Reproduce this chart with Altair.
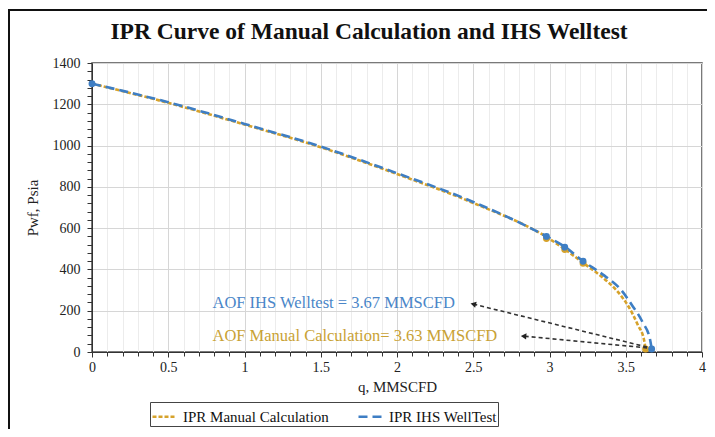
import altair as alt
import pandas as pd

# ---- data ----
series_names = ["IPR Manual Calculation", "IPR IHS WellTest"]
series_colors = ["#D6A22B", "#3E7EC4"]

manual_q = [0.0, 0.5, 1.0, 1.5, 2.0, 2.5, 3.0, 3.10, 3.22, 3.35, 3.45, 3.52, 3.58, 3.62, 3.63]
manual_p = [1300, 1207, 1102, 992, 862, 722, 548, 498, 432, 360, 290, 218, 130, 58, 14.7]

ihs_q = [0.0, 0.5, 1.0, 1.5, 2.0, 2.5, 2.98, 3.10, 3.22, 3.36, 3.47, 3.54, 3.61, 3.66, 3.67]
ihs_p = [1300, 1210, 1105, 995, 866, 727, 560, 510, 440, 370, 300, 228, 145, 58, 14.7]

manual_pts_q = [2.98, 3.10, 3.22, 3.63]
manual_pts_p = [550, 496, 430, 14.7]
ihs_pts_q = [0.0, 2.98, 3.10, 3.22, 3.67]
ihs_pts_p = [1300, 560, 508, 440, 14.7]

ann_text = ["AOF IHS Welltest = 3.67 MMSCFD", "AOF Manual Calculation= 3.63 MMSCFD"]
ann_q = [0.79, 0.79]
ann_p = [237, 78]
ann_colors = ["#4A86C8", "#C9A235"]

arrow_from_q = [3.64, 3.64]
arrow_from_p = [24, 20]
arrow_to_q = [2.50, 2.83]
arrow_to_p = [232, 77]
arrow_angle = [14, 4]

# axis ticks: majors get labels, minors only a short tick
x_ticks = [round(i * 0.1, 1) for i in range(41)]
y_ticks = [i * 40 for i in range(36)]

FONT = "Liberation Serif"

# ---- tables ----
curves = pd.DataFrame(
    {"q": manual_q, "p": manual_p, "series": series_names[0], "idx": range(len(manual_q))}
)
curves = pd.concat([curves, pd.DataFrame(
    {"q": ihs_q, "p": ihs_p, "series": series_names[1], "idx": range(len(ihs_q))}
)], ignore_index=True)

pts = pd.concat([
    pd.DataFrame({"q": manual_pts_q, "p": manual_pts_p, "series": series_names[0]}),
    pd.DataFrame({"q": ihs_pts_q, "p": ihs_pts_p, "series": series_names[1]}),
], ignore_index=True)

ann = pd.DataFrame({"q": ann_q, "p": ann_p, "text": ann_text, "c": ann_colors})
arrows = pd.DataFrame({"q": arrow_from_q, "p": arrow_from_p, "q2": arrow_to_q,
                       "p2": arrow_to_p, "ang": arrow_angle})

xs = alt.Scale(domain=[0, 4], nice=False, zero=False)
ys = alt.Scale(domain=[0, 1400], nice=False)
color_scale = alt.Scale(domain=series_names, range=series_colors)

x_major_test = "abs(datum.value * 2 - round(datum.value * 2)) < 0.001"
y_major_test = "datum.value % 200 == 0"

x_axis = alt.Axis(values=x_ticks, tickCount=100, title="q, MMSCFD", labelFont=FONT, labelFontSize=14,
                  labelExpr="abs(datum.value * 2 - round(datum.value * 2)) < 0.001 ? format(datum.value, '~g') : ''",
                  labelColor="#222", titleFont=FONT, titleFontSize=15, titleFontWeight="normal",
                  titleColor="#222", titlePadding=5, domainColor="#333", tickColor="#333",
                  tickSize={"condition": {"test": x_major_test, "value": 5}, "value": 4},
                  gridColor={"condition": {"test": x_major_test, "value": "#d6d6d6"}, "value": "#ececec"},
                  labelPadding=3, grid=True, labelFlush=False, labelOverlap=False)
y_axis = alt.Axis(values=y_ticks, tickCount=100, title="Pwf, Psia", labelFont=FONT, labelFontSize=14,
                  labelExpr="datum.value % 200 == 0 ? format(datum.value, 'd') : ''",
                  labelColor="#222", titleFont=FONT, titleFontSize=15, titleFontWeight="normal",
                  titleColor="#222", titlePadding=12, domainColor="#333", tickColor="#333",
                  tickSize=5,
                  gridOpacity={"condition": {"test": y_major_test, "value": 1}, "value": 0},
                  gridColor="#d6d6d6", labelPadding=7, grid=True, labelOverlap=False)

lines = alt.Chart(curves).mark_line(strokeWidth=2.6, interpolate="monotone").encode(
    x=alt.X("q:Q", scale=xs, axis=x_axis),
    y=alt.Y("p:Q", scale=ys, axis=y_axis),
    color=alt.Color("series:N", scale=color_scale, sort=series_names,
                    legend=alt.Legend(title=None)),
    strokeDash=alt.StrokeDash("series:N", sort=series_names,
                              scale=alt.Scale(domain=series_names, range=[[4, 2], [9, 5]]),
                              legend=alt.Legend(title=None)),
    order="idx:Q",
)

points = alt.Chart(pts).mark_circle(size=48, opacity=1).encode(
    x="q:Q", y="p:Q",
    color=alt.Color("series:N", scale=color_scale, legend=None),
)

arrow_lines = alt.Chart(arrows).mark_rule(strokeDash=[4, 3], strokeWidth=1.6, color="#333").encode(
    x="q:Q", y="p:Q", x2="q2:Q", y2="p2:Q"
)
arrow_heads = alt.Chart(arrows).mark_point(shape="triangle-left", filled=True, size=40,
                                           color="#222", opacity=1).encode(
    x="q2:Q", y="p2:Q", angle=alt.Angle("ang:Q", scale=None)
)

texts = alt.Chart(ann).mark_text(align="left", baseline="middle", font=FONT, fontSize=16.5).encode(
    x="q:Q", y="p:Q", text="text:N", color=alt.Color("c:N", scale=None)
)

frame = alt.Chart(pd.DataFrame({"k": [0]})).mark_rect(
    fillOpacity=0, stroke="#111", strokeWidth=2
).encode(x=alt.value(-83), x2=alt.value(660), y=alt.value(-53), y2=alt.value(500))

chart = alt.layer(
    lines, points, arrow_lines, arrow_heads, texts, frame
).properties(
    width=610, height=289,
    autosize=alt.AutoSizeParams(type="none"),
    padding={"left": 84, "top": 55, "right": 5, "bottom": 77},
    title=alt.TitleParams("IPR Curve of Manual Calculation and IHS Welltest", font=FONT,
                          fontSize=23.5, fontWeight="bold", color="#111", anchor="middle",
                          frame="group", dx=-28, offset=-34),
).configure_view(
    stroke="#4d4d4d", strokeWidth=1.5
).configure_legend(
    orient="none", legendX=58, legendY=339, direction="horizontal",
    labelFont=FONT, labelFontSize=15, labelColor="#111", symbolType="stroke",
    symbolSize=576, symbolStrokeWidth=2.5, strokeColor="#444", fillColor="white",
    padding=1, columnPadding=24, labelOffset=5, labelLimit=300
)

chart.save("out.html", embed_options={"renderer": "svg", "actions": False})
